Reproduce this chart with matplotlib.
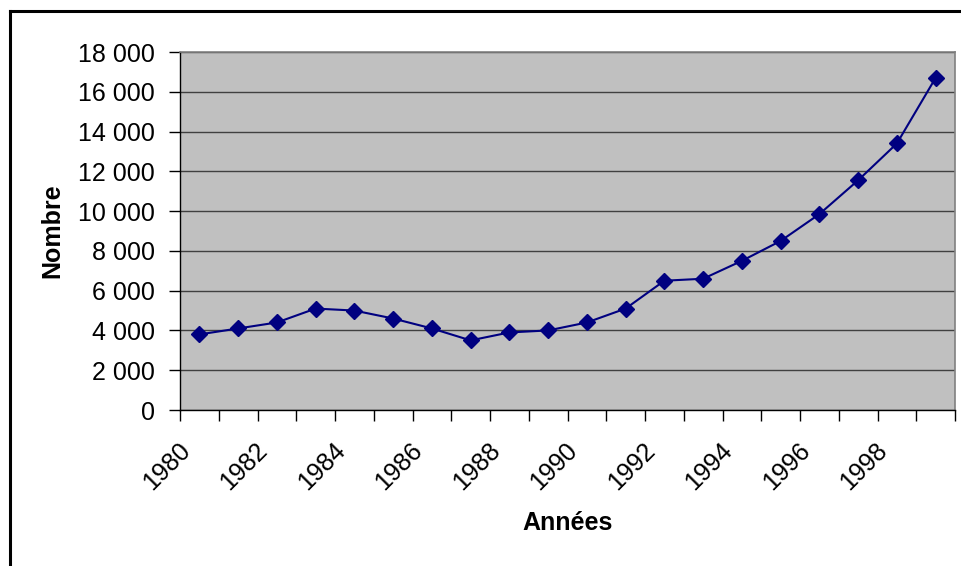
import matplotlib.pyplot as plt
from matplotlib.lines import Line2D
from matplotlib.ticker import FuncFormatter
from matplotlib.transforms import ScaledTranslation
import numpy as np

plt.rcParams['font.family'] = ['Liberation Sans', 'DejaVu Sans']

annees = list(range(1980, 2000))
nombre = [3800, 4100, 4400, 5100, 5000, 4600, 4100, 3500, 3900, 4000,
          4400, 5100, 6500, 6600, 7500, 8500, 9850, 11550, 13400, 16700]

W, H = 961, 566
fig = plt.figure(figsize=(W/100, H/100), dpi=100)
ax = fig.add_axes([180/W, 1 - 410/H, 775/W, 358/H])
ax.set_facecolor('#C0C0C0')

x = np.arange(len(annees)) + 0.5
ax.plot(x, nombre, color='#000080', lw=1.5, marker='D', ms=8.5, mec='#000080', mfc='#000080')

ax.set_xlim(0, len(annees))
ax.set_ylim(0, 18000)
ax.set_yticks(np.arange(0, 18001, 2000))
ax.yaxis.set_major_formatter(FuncFormatter(lambda v, p: f"{int(v):,}".replace(',', ' ')))
ax.grid(axis='y', color='#404040', lw=1)
ax.set_axisbelow(True)

# category boundaries get the tick marks, every other category centre gets a label
ax.set_xticks(np.arange(0, len(annees) + 1))
ax.set_xticklabels([])
ax.set_xticks(x[::2], minor=True)
ax.set_xticklabels([str(a) for a in annees[::2]], minor=True, rotation=45,
                   ha='right', va='center', rotation_mode='anchor', fontsize=18)
ax.tick_params(axis='x', which='major', length=8, width=1, direction='out')
ax.tick_params(axis='x', which='minor', length=0, pad=26.5)
ax.tick_params(axis='y', length=8, width=1, direction='out', labelsize=18, pad=10)

# Excel puts the rotated year labels a little left of the category centre
shift = ScaledTranslation(-13/100, 0, fig.dpi_scale_trans)
for lbl in ax.get_xticklabels(minor=True):
    lbl.set_transform(lbl.get_transform() + shift)

for s in ['top', 'right']:
    ax.spines[s].set_color('#808080')
    ax.spines[s].set_linewidth(1.2)
for s in ['left', 'bottom']:
    ax.spines[s].set_color('black')
    ax.spines[s].set_linewidth(1)

ax.set_ylabel('Nombre', fontsize=18, fontweight='bold', va='center')
ax.yaxis.set_label_coords(-0.165, 0.5)
ax.set_xlabel('Années', fontsize=18, fontweight='bold', va='center')
ax.xaxis.set_label_coords(0.5, -0.316)

# outer chart frame (only top and left edges are visible)
fig.add_artist(Line2D([9.5/W, 1], [1 - 10.5/H, 1 - 10.5/H], color='black', lw=2.2))
fig.add_artist(Line2D([9.5/W, 9.5/W], [0, 1 - 10.5/H], color='black', lw=2.2))

fig.savefig('out.png', dpi=100)
